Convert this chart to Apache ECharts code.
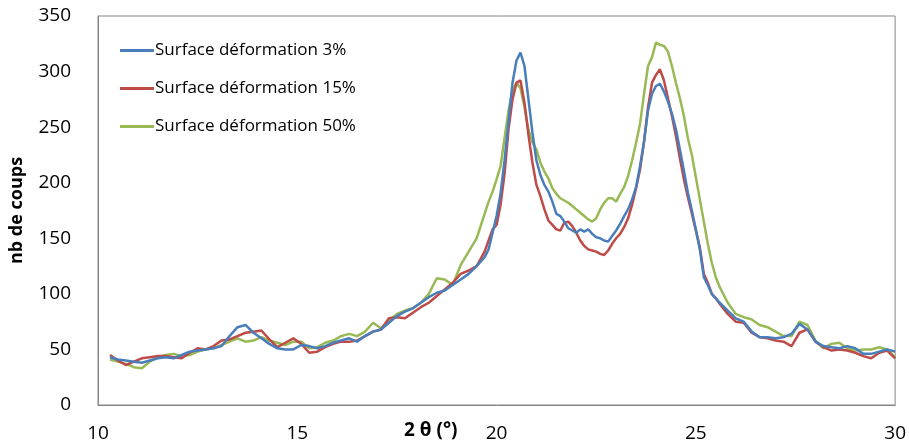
<!DOCTYPE html>
<html><head><meta charset="utf-8">
<script src="https://cdn.jsdelivr.net/npm/echarts@6/dist/echarts.min.js"></script>
<style>html,body{margin:0;padding:0;background:#fff}#c{width:909px;height:448px}</style>
</head><body><div id="c"></div>
<script>
const seriesNames = ["Surface déformation 3%", "Surface déformation 15%", "Surface déformation 50%"];
const xTicks = [10, 15, 20, 25, 30];
const yTicks = [0, 50, 100, 150, 200, 250, 300, 350];

const theta = [
10.3,10.5,10.7,10.9,11.1,11.3,11.5,11.7,11.9,12.1,12.3,12.5,12.7,12.9,13.1,13.3,13.5,13.7,13.9,14.1,
14.3,14.5,14.7,14.9,15.1,15.3,15.5,15.7,15.9,16.1,16.3,16.5,16.7,16.9,17.1,17.3,17.5,17.7,17.9,18.1,
18.3,18.5,18.7,18.9,19.1,19.3,19.5,19.7,
19.8,19.9,20.0,20.1,20.2,20.3,20.4,20.5,20.6,20.7,20.8,20.9,21.0,21.1,21.2,21.3,21.4,21.5,21.6,21.7,
21.8,21.9,22.0,22.1,22.2,22.3,22.4,22.5,22.6,22.7,22.8,22.9,23.0,23.1,23.2,23.3,23.4,23.5,23.6,23.7,
23.8,23.9,24.0,24.1,24.2,24.3,24.4,24.5,24.6,24.7,24.8,24.9,25.0,25.1,25.2,25.3,25.4,25.5,25.6,
25.8,26.0,26.2,26.4,26.6,26.8,27.0,27.2,27.4,27.6,27.8,28.0,28.2,28.4,28.6,28.8,29.0,29.2,29.4,29.6,
29.8,30.0];

const def3 = [
43,41,40,39,38,40,42,43,42,45,48,49,50,51,53,62,70,72,65,60,
55,51,50,50,54,53,51,53,56,58,60,57,62,66,68,74,80,84,87,92,
97,101,103,108,113,118,125,133,
140,155,170,190,220,255,290,310,317,305,275,245,220,207,198,192,183,172,170,165,
159,157,155,158,156,158,154,151,150,148,147,152,157,163,170,176,185,196,215,237,
265,280,287,289,282,273,262,248,230,211,191,175,158,140,115,108,100,96,92,
85,78,75,66,61,61,60,61,64,73,68,57,53,52,51,53,51,46,46,48,
50,48];

const def15 = [
45,40,36,39,42,43,44,44,43,42,47,51,50,53,58,59,62,65,66,67,
59,52,56,60,55,47,48,52,55,57,57,58,62,66,68,78,79,78,83,88,
92,98,104,110,118,121,125,138,
148,158,162,180,208,248,275,290,292,272,243,218,198,188,176,166,162,158,157,164,
165,161,155,148,143,140,139,138,136,135,139,145,150,154,160,168,180,195,212,237,
268,290,297,302,292,276,260,242,222,203,187,172,157,142,118,110,100,96,91,
82,75,74,65,61,60,58,57,53,65,68,57,52,49,50,49,47,44,42,47,
49,42];

const def50 = [
41,39,37,34,33,39,43,45,46,44,45,48,50,51,54,57,60,57,58,61,
58,56,54,57,57,51,52,56,58,62,64,62,66,74,69,76,82,85,87,92,
100,114,113,108,126,138,150,172,
183,192,203,215,240,265,283,290,285,268,248,236,230,218,210,204,195,190,186,184,
182,179,176,173,170,167,165,168,176,182,186,186,183,190,196,206,220,236,253,280,
305,313,326,324,323,318,305,290,276,260,240,225,205,185,165,145,128,115,106,
92,82,79,77,72,70,66,62,62,75,72,58,51,55,56,51,49,50,50,52,
50,43];

const colors = ["#4a7ebb", "#be4b48", "#98b954"];
const FONT = "Open Sans";

function pairs(ys){ return theta.map((x,i)=>[x, ys[i]]); }

const chart = echarts.init(document.getElementById('c'), null, {renderer:'canvas'});
chart.setOption({
  animation:false,
  backgroundColor:'#fff',
  grid:{left:92, right:13, top:16, bottom:43, show:true, borderColor:'#868686', borderWidth:1},
  xAxis:{type:'value', min:xTicks[0], max:xTicks[xTicks.length-1], interval:5,
    axisLine:{show:true, lineStyle:{color:'#868686', width:1}}, axisTick:{show:false},
    splitLine:{show:false},
    axisLabel:{color:'#000', fontFamily:FONT, fontSize:19, margin:19}},
  yAxis:{type:'value', min:yTicks[0], max:yTicks[yTicks.length-1], interval:50,
    axisLine:{show:true, lineStyle:{color:'#868686', width:1}}, axisTick:{show:false},
    splitLine:{show:false},
    axisLabel:{color:'#000', fontFamily:FONT, fontSize:19, margin:27},
    name:'nb de coups', nameLocation:'middle', nameGap:72, nameRotate:90,
    nameTextStyle:{color:'#000', fontFamily:FONT, fontSize:18, fontWeight:'bold'}},
  legend:{orient:'vertical', left:115, top:37, itemGap:21, itemWidth:34, itemHeight:3, icon:'rect',
    textStyle:{color:'#000', fontFamily:FONT, fontSize:17, lineHeight:17, padding:[0,0,0,-4]},
    data:seriesNames},
  graphic:[{type:'text', left:404, top:421,
    style:{text:'2 θ (°)', fill:'#000', font:'bold 19px "Open Sans"'}}],
  series:[def3, def15, def50].map((d,i)=>({
    name:seriesNames[i], type:'line', data:pairs(d), showSymbol:false, symbol:'none',
    lineStyle:{color:colors[i], width:2.5}, itemStyle:{color:colors[i]}, z:3-i
  }))
});
</script></body></html>
